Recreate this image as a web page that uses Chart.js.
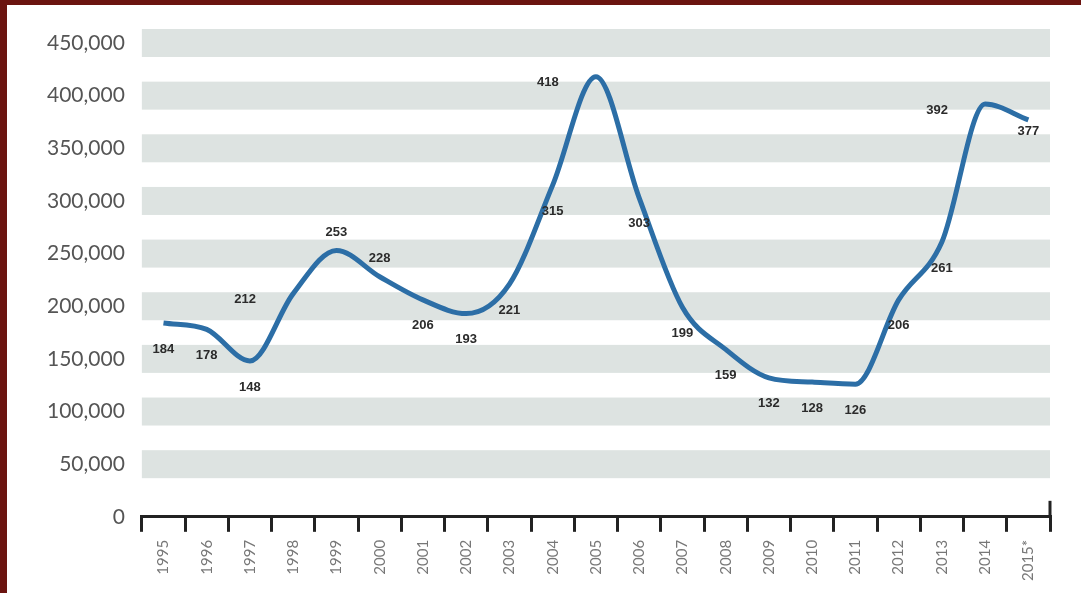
<!DOCTYPE html>
<html>
<head>
<meta charset="utf-8">
<script src="https://cdn.jsdelivr.net/npm/chart.js@4/dist/chart.umd.min.js"></script>
<style>
  html, body { margin: 0; padding: 0; }
  body { width: 1081px; height: 593px; background: #6b1410; position: relative; overflow: hidden; }
  #wrap { position: absolute; left: 7px; top: 5px; width: 1074px; height: 588px; background: #fff; }
</style>
</head>
<body>
<div id="wrap"><canvas id="chart" width="1074" height="588"></canvas></div>
<script>
// years on the x axis
const years = ['1995', '1996', '1997', '1998', '1999', '2000', '2001', '2002', '2003', '2004',
    '2005', '2006', '2007', '2008', '2009', '2010', '2011', '2012', '2013', '2014', '2015*'];

// values in thousands, as printed on the chart
const valuesK = [184, 178, 148, 212, 253, 228, 206, 193, 221, 315,
    418, 303, 199, 159, 132, 128, 126, 206, 261, 392, 377];

const values = valuesK.map(v => v * 1000);

// y axis ticks
const yMax = 450000;
const yStep = 50000;

// where each value label sits relative to its point
const labelSide = ['below', 'below', 'below', 'left', 'above', 'above', 'below', 'below', 'below', 'below',
    'left', 'below', 'below', 'below', 'below', 'below', 'below', 'below', 'below', 'left', 'near'];

const bandsPlugin = {
    id: 'bands',
    beforeDatasetsDraw(chart) {
        const { ctx, chartArea, scales } = chart;
        ctx.save();
        ctx.fillStyle = '#dde3e1';
        scales.y.ticks.forEach(t => {
            if (t.value === 0) return;
            const y = scales.y.getPixelForValue(t.value);
            ctx.fillRect(chartArea.left, y - 14, chartArea.right - chartArea.left, 28);
        });
        ctx.restore();
    }
};

const labelsPlugin = {
    id: 'valueLabels',
    afterDatasetsDraw(chart) {
        const { ctx } = chart;
        const meta = chart.getDatasetMeta(0);
        ctx.save();
        ctx.font = 'bold 13px "Liberation Sans Narrow", "Liberation Sans", sans-serif';
        ctx.fillStyle = '#2b2b2b';
        ctx.textAlign = 'center';
        ctx.textBaseline = 'middle';
        meta.data.forEach((pt, i) => {
            let x = pt.x, y = pt.y;
            if (labelSide[i] === 'below') y += 26;
            else if (labelSide[i] === 'above') y -= 18;
            else if (labelSide[i] === 'left') { x -= 48; y += 6; }
            else if (labelSide[i] === 'near') y += 12;
            ctx.fillText(valuesK[i], x, y);
        });
        ctx.restore();
    }
};

const axisEndPlugin = {
    id: 'axisEnd',
    afterDraw(chart) {
        const { ctx, chartArea } = chart;
        ctx.save();
        ctx.strokeStyle = '#222';
        ctx.lineWidth = 3;
        ctx.beginPath();
        ctx.moveTo(chartArea.right, chartArea.bottom - 16);
        ctx.lineTo(chartArea.right, chartArea.bottom);
        ctx.stroke();
        ctx.restore();
    }
};

new Chart(document.getElementById('chart'), {
    type: 'line',
    data: {
        labels: years,
        datasets: [{
            data: values,
            borderColor: '#2c6ea6',
            borderWidth: 5,
            pointRadius: 0,
            tension: 0.4,
            cubicInterpolationMode: 'monotone',
            fill: false
        }]
    },
    options: {
        responsive: false,
        animation: false,
        layout: { padding: { left: 23, right: 31, top: 38, bottom: 4 } },
        plugins: { legend: { display: false }, tooltip: { enabled: false } },
        scales: {
            x: {
                offset: true,
                grid: {
                    offset: true,
                    drawOnChartArea: false,
                    color: '#222',
                    lineWidth: 3,
                    tickLength: 15
                },
                border: { display: true, color: '#222', width: 3 },
                ticks: {
                    minRotation: 90,
                    maxRotation: 90,
                    padding: 8,
                    color: '#777',
                    font: { family: 'Lato', size: 15 }
                }
            },
            y: {
                min: 0,
                max: yMax,
                grid: { display: false, drawTicks: false },
                border: { display: false },
                ticks: {
                    stepSize: yStep,
                    padding: 17,
                    color: '#555',
                    font: { family: 'Lato', size: 21 },
                    callback: v => v.toLocaleString('en-US')
                }
            }
        }
    },
    plugins: [bandsPlugin, labelsPlugin, axisEndPlugin]
});
</script>
</body>
</html>
